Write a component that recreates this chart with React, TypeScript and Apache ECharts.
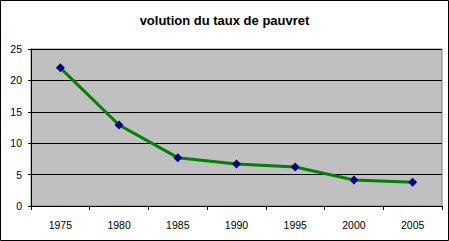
import React, { useEffect, useRef } from "react";
import * as echarts from "echarts";

const titleText = "volution du taux de pauvret";
const years = ["1975", "1980", "1985", "1990", "1995", "2000", "2005"];
const rates = [22.0, 12.9, 7.7, 6.7, 6.2, 4.15, 3.8];

export default function App() {
  const ref = useRef<HTMLDivElement>(null);
  useEffect(() => {
    if (!ref.current) return;
    const chart = echarts.init(ref.current, undefined, { renderer: "svg" });
    chart.setOption({
      animation: false,
      backgroundColor: "#ffffff",
      title: {
        text: titleText,
        left: "center",
        top: 9,
        textStyle: { fontFamily: "Liberation Sans", fontSize: 13, fontWeight: "bold", color: "#000" },
      },
      graphic: [
        {
          type: "rect",
          shape: { x: 0.5, y: 0.5, width: 448, height: 240 },
          style: { fill: "none", stroke: "#000", lineWidth: 1 },
          silent: true,
          z: 100,
        },
      ],
      grid: {
        left: 31,
        right: 7,
        top: 49,
        bottom: 35,
        show: true,
        backgroundColor: "#C0C0C0",
        borderColor: "#808080",
        borderWidth: 1,
      },
      xAxis: {
        type: "category",
        data: years,
        boundaryGap: true,
        axisLine: { show: true, lineStyle: { color: "#000", width: 1 } },
        axisTick: { show: true, length: 4, lineStyle: { color: "#000" }, alignWithLabel: false },
        axisLabel: { margin: 13, fontFamily: "Liberation Sans", fontSize: 10.5, color: "#000" },
        splitLine: { show: false },
      },
      yAxis: {
        type: "value",
        min: 0,
        max: 25,
        interval: 5,
        axisLine: { show: true, lineStyle: { color: "#000", width: 1 } },
        axisTick: { show: true, length: 3, lineStyle: { color: "#000" } },
        axisLabel: { margin: 9, fontFamily: "Liberation Sans", fontSize: 10.5, color: "#000" },
        splitLine: { show: true, lineStyle: { color: "#000", width: 1 } },
      },
      series: [
        {
          type: "line",
          data: rates,
          symbol: "diamond",
          symbolSize: 9,
          itemStyle: { color: "#000080" },
          lineStyle: { color: "#008000", width: 3 },
        },
      ],
    });
    return () => chart.dispose();
  }, []);
  return (
    <div
      ref={ref}
      style={{ position: "fixed", left: 0, top: 0, width: 449, height: 241 }}
    />
  );
}
